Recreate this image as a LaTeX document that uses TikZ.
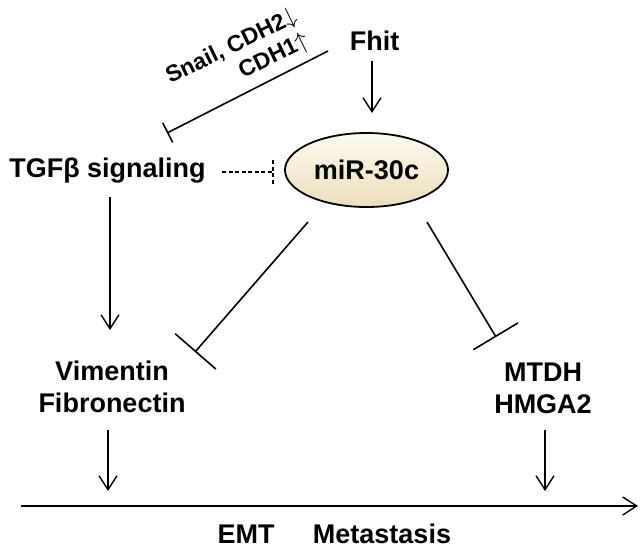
\documentclass[tikz,border=0pt]{standalone}
\usepackage{fontspec}
\setmainfont{Liberation Sans}
\usepackage{amsmath}
\usetikzlibrary{arrows.meta,shapes.geometric}
\definecolor{mirtop}{RGB}{253,250,240}
\definecolor{mirbot}{RGB}{236,222,188}
\tikzset{
  lbl/.style={font=\bfseries\fontsize{27}{32}\selectfont, inner sep=0pt, align=center},
  act/.style={line width=1.4pt, -{Straight Barb[length=14pt,width=18pt,line width=1.4pt]}},
  inh/.style={line width=1.6pt, -{Bar[width=#1,line width=1.6pt]}},
  inh/.default=52pt
}

\begin{document}
\begin{tikzpicture}[x=1pt, y=-1pt]
  \useasboundingbox (0,0) rectangle (644,550);
  % nodes
  \node[lbl, anchor=base] (fhit) at (374.5,50) {Fhit};
  \node[lbl, ellipse, draw, line width=1.8pt, minimum width=163pt, minimum height=74pt,
        top color=mirtop, bottom color=mirbot] (mir) at (366.5,170) {miR-30c};
  \node[lbl, anchor=base] (tgf) at (107.5,177) {TGFβ signaling};
  \node[lbl, anchor=base] (vim) at (112,412) {Vimentin\\Fibronectin};
  \node[lbl, anchor=base] (mtdh) at (543,413) {MTDH\\HMGA2};
  \node[lbl, anchor=base] (emt) at (246,543) {EMT};
  \node[lbl, anchor=base] (meta) at (382,543) {Metastasis};
  \node[font=\bfseries\fontsize{23}{27}\selectfont, inner sep=0pt, align=right,
        rotate=26, anchor=south east] (snail) at (313,50) {Snail, CDH2$\downarrow$\\CDH1$\uparrow$};
  % connector ends
  \coordinate (fhitB) at (372,61);   \coordinate (mirT) at (372,113);
  \coordinate (snailA) at (328,51);  \coordinate (tgfT) at (167,133);
  \coordinate (tgfR) at (222,172);   \coordinate (mirW) at (273,172);
  \coordinate (tgfB) at (110,197);   \coordinate (vimT) at (110,330);
  \coordinate (mirSW) at (308,222);  \coordinate (vimNE) at (195,352);
  \coordinate (mirSE) at (427,222);  \coordinate (mtdhNW) at (496,337);
  \coordinate (vimB) at (108,430);   \coordinate (axL) at (108,491);
  \coordinate (mtdhB) at (545,430);  \coordinate (axR) at (545,491);
  \coordinate (ax0) at (21,506);     \coordinate (ax1) at (638,506);
  % connectors
  \draw[act] (fhitB) -- (mirT);
  \draw[inh=22pt] (snailA) -- (tgfT);
  \draw[line width=1.2pt, dash pattern=on 4pt off 2.5pt] (tgfR) -- (mirW)
        (mirW) ++(0,-12) -- ++(0,24);
  \draw[act] (tgfB) -- (vimT);
  \draw[inh=54pt] (mirSW) -- (vimNE);
  \draw[inh] (mirSE) -- (mtdhNW);
  \draw[act] (vimB) -- (axL);
  \draw[act] (mtdhB) -- (axR);
  \draw[act, line width=1.6pt] (ax0) -- (ax1);
\end{tikzpicture}
\end{document}
